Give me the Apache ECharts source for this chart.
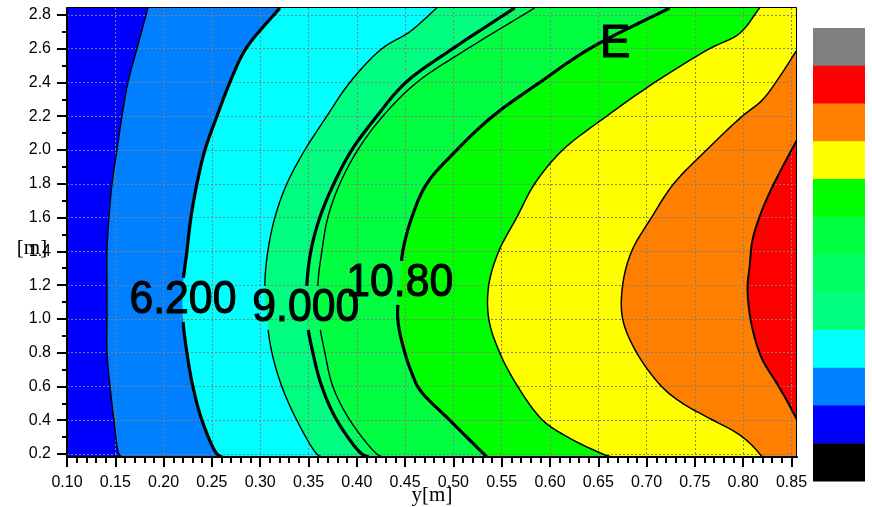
<!DOCTYPE html>
<html>
<head>
<meta charset="utf-8">
<title>E contour map</title>
<script src="https://cdn.jsdelivr.net/npm/echarts@6.0.0/dist/echarts.min.js"></script>
<style>
  html, body { margin: 0; padding: 0; background: #fff; }
  #chart { width: 872px; height: 507px; }
</style>
</head>
<body>
<div id="chart"></div>
<script>
// ---- axis ranges and tick labels ----
const xRange = [0.10, 0.8557];
const yRange = [0.182, 2.841];
const xTickValues = [0.10, 0.15, 0.20, 0.25, 0.30, 0.35, 0.40, 0.45, 0.50, 0.55, 0.60, 0.65, 0.70, 0.75, 0.80, 0.85];
const xTickLabels = ['0.10', '0.15', '0.20', '0.25', '0.30', '0.35', '0.40', '0.45', '0.50', '0.55', '0.60', '0.65', '0.70', '0.75', '0.80', '0.85'];
const yTickValues = [0.2, 0.4, 0.6, 0.8, 1.0, 1.2, 1.4, 1.6, 1.8, 2.0, 2.2, 2.4, 2.6, 2.8];
const yTickLabels = ['0.2', '0.4', '0.6', '0.8', '1.0', '1.2', '1.4', '1.6', '1.8', '2.0', '2.2', '2.4', '2.6', '2.8'];

// ---- contour boundaries, [y position, height] pairs, listed top to bottom ----
const contour1 = [[0.1838, 2.841], [0.1724, 2.6], [0.1631, 2.4], [0.1569, 2.2], [0.1517, 2.0], [0.1466, 1.8], [0.1434, 1.6], [0.1414, 1.4], [0.1414, 1.2], [0.1414, 1.0], [0.1414, 0.8], [0.1445, 0.6], [0.1486, 0.4], [0.1538, 0.2], [0.1569, 0.182]];
const contour2 = [[0.3203, 2.841], [0.2852, 2.6], [0.2686, 2.4], [0.2552, 2.2], [0.2428, 2.0], [0.2345, 1.8], [0.2283, 1.6], [0.2241, 1.4], [0.2200, 1.2], [0.2200, 1.0], [0.2241, 0.8], [0.2303, 0.6], [0.2397, 0.4], [0.2552, 0.2], [0.2603, 0.182]];
const contour3 = [[0.4828, 2.841], [0.4548, 2.70], [0.4259, 2.6], [0.3928, 2.4], [0.3690, 2.2], [0.3462, 2.0], [0.3276, 1.8], [0.3152, 1.6], [0.3079, 1.4], [0.3048, 1.2], [0.3069, 1.0], [0.3121, 0.8], [0.3224, 0.6], [0.3379, 0.4], [0.3586, 0.2], [0.3638, 0.182]];
const contour4 = [[0.5634, 2.841], [0.4993, 2.6], [0.4507, 2.4], [0.4207, 2.2], [0.3948, 2.0], [0.3762, 1.8], [0.3617, 1.6], [0.3524, 1.4], [0.3483, 1.2], [0.3483, 1.0], [0.3545, 0.8], [0.3638, 0.6], [0.3793, 0.4], [0.4052, 0.2], [0.4124, 0.182]];
const contour5 = [[0.5841, 2.841], [0.5148, 2.6], [0.4621, 2.4], [0.4269, 2.2], [0.4010, 2.0], [0.3824, 1.8], [0.3700, 1.6], [0.3638, 1.4], [0.3597, 1.2], [0.3607, 1.0], [0.3669, 0.8], [0.3752, 0.6], [0.3928, 0.4], [0.4207, 0.2], [0.4269, 0.182]];
const contour6 = [[0.7238, 2.841], [0.6410, 2.6], [0.5893, 2.4], [0.5407, 2.2], [0.5034, 2.0], [0.4724, 1.8], [0.4569, 1.6], [0.4476, 1.4], [0.4445, 1.2], [0.4424, 1.0], [0.4497, 0.8], [0.4569, 0.68], [0.4652, 0.58], [0.4962, 0.4], [0.5314, 0.2], [0.5345, 0.182]];
const contour7 = [[0.8169, 2.841], [0.7962, 2.69], [0.7652, 2.6], [0.7083, 2.4], [0.6586, 2.2], [0.6131, 2.0], [0.5841, 1.8], [0.5655, 1.6], [0.5469, 1.4], [0.5366, 1.2], [0.5366, 1.0], [0.5479, 0.8], [0.5666, 0.6], [0.5924, 0.4], [0.6183, 0.3], [0.6545, 0.2], [0.6638, 0.182]];
const contour8 = [[0.8557, 2.593], [0.8376, 2.433], [0.8200, 2.297], [0.7990, 2.2], [0.7620, 2.0], [0.7280, 1.8], [0.7050, 1.6], [0.6845, 1.4], [0.6752, 1.2], [0.6752, 1.0], [0.6897, 0.8], [0.7155, 0.6], [0.7372, 0.5], [0.7621, 0.42], [0.7931, 0.325], [0.8066, 0.265], [0.8200, 0.182]];
const contour9 = [[0.8557, 2.060], [0.8407, 1.900], [0.8272, 1.746], [0.8169, 1.604], [0.8097, 1.468], [0.8066, 1.308], [0.8045, 1.189], [0.8066, 1.035], [0.8117, 0.893], [0.8200, 0.757], [0.8345, 0.621], [0.8448, 0.520], [0.8557, 0.402]];

// ---- contour labels ----
const labelValues = [6.2, 9.0, 10.8];
const labelX = [0.2200, 0.3472, 0.4445];
const labelY = [1.112, 1.065, 1.213];

// ---- colours ----
const baseColor = '#0000ff';
const levelColors = ['#0080ff', '#00ffff', '#00ff80', '#00ff60', '#00ff40', '#00ff00', '#ffff00', '#ff8000', '#ff0000'];
const barColors = ['#808080', '#ff0000', '#ff8000', '#ffff00', '#00ff00', '#00ff40', '#00ff60', '#00ff80', '#00ffff', '#0080ff', '#0000ff', '#000000'];
const contourWidths = [1.4, 3.2, 1.4, 3.2, 1.4, 3.2, 1.5, 1.5, 2.0];

const SANS = '"Liberation Sans", Arial, Helvetica, sans-serif';
const SERIF = '"Liberation Serif", "Times New Roman", serif';

// minor tick positions
const xMinorTicks = [];
for (let k = 11; k <= 85; k++) if (k % 5) xMinorTicks.push(k / 100);
const yMinorTicks = [];
for (let k = 3; k <= 27; k += 2) yMinorTicks.push(k / 10);

const contours = [contour1, contour2, contour3, contour4, contour5, contour6, contour7, contour8, contour9];
const fillColors = [baseColor].concat(levelColors);

function pickLabel(values, labels) {
  return v => {
    const i = values.findIndex(t => Math.abs(t - v) < 1e-6);
    return i < 0 ? '' : labels[i];
  };
}

// centripetal Catmull-Rom path through the pixel points of a contour
function smoothPath(pts, steps) {
  if (pts.length < 3) return pts.slice();
  const n = pts.length;
  const ext = (a, b) => [2 * a[0] - b[0], 2 * a[1] - b[1]];
  const all = [ext(pts[0], pts[1])].concat(pts, [ext(pts[n - 1], pts[n - 2])]);
  const dist = (a, b) => Math.max(Math.sqrt(Math.hypot(b[0] - a[0], b[1] - a[1])), 1e-4);
  const mix = (a, b, wa, wb) => [a[0] * wa + b[0] * wb, a[1] * wa + b[1] * wb];
  const out = [pts[0]];
  for (let i = 1; i < all.length - 2; i++) {
    const P0 = all[i - 1], P1 = all[i], P2 = all[i + 1], P3 = all[i + 2];
    const t0 = 0, t1 = t0 + dist(P0, P1), t2 = t1 + dist(P1, P2), t3 = t2 + dist(P2, P3);
    for (let s = 1; s <= steps; s++) {
      const t = t1 + (t2 - t1) * s / steps;
      const A1 = mix(P0, P1, (t1 - t) / (t1 - t0), (t - t0) / (t1 - t0));
      const A2 = mix(P1, P2, (t2 - t) / (t2 - t1), (t - t1) / (t2 - t1));
      const A3 = mix(P2, P3, (t3 - t) / (t3 - t2), (t - t2) / (t3 - t2));
      const B1 = mix(A1, A2, (t2 - t) / (t2 - t0), (t - t0) / (t2 - t0));
      const B2 = mix(A2, A3, (t3 - t) / (t3 - t1), (t - t1) / (t3 - t1));
      out.push(mix(B1, B2, (t2 - t) / (t2 - t1), (t - t1) / (t2 - t1)));
    }
  }
  return out;
}

// pixel outline of each filled band: everything to the right of its boundary
function bandOutline(i, api) {
  const tr = api.coord([xRange[1], yRange[1]]);
  const br = api.coord([xRange[1], yRange[0]]);
  if (i === 0) {
    return [api.coord([xRange[0], yRange[1]]), tr, br, api.coord([xRange[0], yRange[0]])];
  }
  const curve = smoothPath(contours[i - 1].map(p => api.coord(p)), 8);
  if (i <= 7) return curve.concat([br, tr]);
  if (i === 8) return curve.concat([br]);
  return curve;
}

// parametric part of segment p->q that lies inside box b
function clipInterval(p, q, b) {
  let t0 = 0, t1 = 1;
  const dx = q[0] - p[0], dy = q[1] - p[1];
  const checks = [[-dx, p[0] - b.x0], [dx, b.x1 - p[0]], [-dy, p[1] - b.y0], [dy, b.y1 - p[1]]];
  for (const [pp, qq] of checks) {
    if (pp === 0) { if (qq < 0) return null; }
    else {
      const r = qq / pp;
      if (pp < 0) { if (r > t1) return null; if (r > t0) t0 = r; }
      else { if (r < t0) return null; if (r < t1) t1 = r; }
    }
  }
  return [t0, t1];
}
const lerp = (p, q, t) => [p[0] + (q[0] - p[0]) * t, p[1] + (q[1] - p[1]) * t];

// break a contour line where the labels sit
function cutPolyline(pts, boxes) {
  const runs = [];
  let cur = [];
  for (let i = 0; i < pts.length - 1; i++) {
    const p = pts[i], q = pts[i + 1];
    const cuts = boxes.map(b => clipInterval(p, q, b))
      .filter(c => c && c[1] > c[0]).sort((a, b) => a[0] - b[0]);
    let t = 0;
    if (cur.length === 0) cur.push(p);
    for (const c of cuts) {
      if (c[0] > t) cur.push(lerp(p, q, c[0]));
      if (cur.length > 1) runs.push(cur);
      cur = [];
      t = Math.max(t, c[1]);
      if (t < 1) cur.push(lerp(p, q, t));
    }
    if (t < 1) cur.push(q);
  }
  if (cur.length > 1) runs.push(cur);
  return runs;
}

function labelBoxes(api) {
  return labelValues.map((v, i) => {
    const c = api.coord([labelX[i], labelY[i]]);
    return { x0: c[0] - 56, x1: c[0] + 56, y0: c[1] - 22, y1: c[1] + 22 };
  });
}

const chart = echarts.init(document.getElementById('chart'), null, { renderer: 'canvas' });

const axisFont = { color: '#000', fontFamily: SANS, fontSize: 16 };
const barCell = (481 - 28) / barColors.length;
const gridStyle = { color: '#808080', type: [2, 2], width: 1 };

const option = {
  animation: false,
  backgroundColor: '#ffffff',
  grid: [
    { left: 67, right: 75, top: 8, bottom: 50, show: false, outerBoundsMode: 'none' },
    { left: 67, right: 75, top: 8, bottom: 50, show: false, outerBoundsMode: 'none' }
  ],
  xAxis: [
    {
      type: 'value', gridIndex: 0, min: xRange[0], max: xRange[1], position: 'bottom', z: 3,
      axisLine: { show: true, onZero: false, lineStyle: { color: '#000', width: 2 } },
      axisTick: { show: true, customValues: xTickValues, length: 10, lineStyle: { color: '#000', width: 2 } },
      axisLabel: Object.assign({ show: true, customValues: xTickValues, formatter: pickLabel(xTickValues, xTickLabels), margin: 18 }, axisFont),
      splitLine: { show: true, lineStyle: gridStyle },
      minorTick: { show: false }
    },
    {
      type: 'value', gridIndex: 1, min: xRange[0], max: xRange[1], position: 'bottom', z: 3,
      axisLine: { show: false, onZero: false },
      axisTick: { show: true, customValues: xMinorTicks, length: 6, lineStyle: { color: '#000', width: 2 } },
      axisLabel: { show: false },
      splitLine: { show: false }
    }
  ],
  yAxis: [
    {
      type: 'value', gridIndex: 0, min: yRange[0], max: yRange[1], position: 'left', z: 3,
      axisLine: { show: true, onZero: false, lineStyle: { color: '#000', width: 2 } },
      axisTick: { show: true, customValues: yTickValues, length: 10, lineStyle: { color: '#000', width: 2 } },
      axisLabel: Object.assign({ show: true, customValues: yTickValues, formatter: pickLabel(yTickValues, yTickLabels), margin: 16 }, axisFont),
      splitLine: { show: true, lineStyle: gridStyle }
    },
    {
      type: 'value', gridIndex: 1, min: yRange[0], max: yRange[1], position: 'left', z: 3,
      axisLine: { show: false, onZero: false },
      axisTick: { show: true, customValues: yMinorTicks, length: 5, lineStyle: { color: '#000', width: 2 } },
      axisLabel: { show: false },
      splitLine: { show: false }
    }
  ],
  series: [
    {
      // filled bands
      type: 'custom', name: 'levels', coordinateSystem: 'cartesian2d', xAxisIndex: 0, yAxisIndex: 0,
      clip: true, silent: true, z: 1,
      data: fillColors.map((c, i) => (i === 0 ? [xRange[0], yRange[0]] : contours[i - 1][0])),
      renderItem: (params, api) => {
        const i = params.dataIndex;
        return {
          type: 'polygon',
          shape: { points: bandOutline(i, api) },
          style: { fill: fillColors[i], stroke: 'none' }
        };
      }
    },
    {
      // contour lines
      type: 'custom', name: 'contours', coordinateSystem: 'cartesian2d', xAxisIndex: 0, yAxisIndex: 0,
      clip: true, silent: true, z: 4,
      data: contours.map(c => c[0]),
      renderItem: (params, api) => {
        const i = params.dataIndex;
        const pts = smoothPath(contours[i].map(p => api.coord(p)), 8);
        const runs = cutPolyline(pts, labelBoxes(api));
        return {
          type: 'group',
          children: runs.map(r => ({
            type: 'polyline',
            shape: { points: r },
            style: { stroke: '#000', fill: 'none', lineWidth: contourWidths[i], lineJoin: 'round', lineCap: 'butt' }
          }))
        };
      }
    },
    {
      // contour value labels
      type: 'custom', name: 'labels', coordinateSystem: 'cartesian2d', xAxisIndex: 0, yAxisIndex: 0,
      clip: false, silent: true, z: 5,
      data: labelValues.map((v, i) => [labelX[i], labelY[i], v]),
      renderItem: (params, api) => {
        const p = api.coord([api.value(0), api.value(1)]);
        return {
          type: 'text', x: p[0], y: p[1], scaleX: 0.93,
          style: {
            text: api.value(2).toPrecision(4), fill: '#000',
            fontFamily: SANS, fontSize: 46,
            stroke: '#000', lineWidth: 1.1,
            align: 'center', verticalAlign: 'middle'
          }
        };
      }
    }
  ],
  graphic: [
    { type: 'rect', z: 10, silent: true, shape: { x: 67, y: 7.5, width: 729.5, height: 449.5 }, style: { fill: 'none', stroke: '#000', lineWidth: 1 } },
    ...barColors.map((c, i) => ({
      type: 'rect', z: 10, silent: true,
      shape: { x: 813, y: 28 + i * barCell, width: 52, height: barCell + 0.6 },
      style: { fill: c, stroke: 'none' }
    })),
    { type: 'text', z: 10, silent: true, x: 615, y: 44, style: { text: 'E', fill: '#000', stroke: '#000', lineWidth: 1, font: '46px ' + SANS, align: 'center', verticalAlign: 'middle', textAlign: 'center', textVerticalAlign: 'middle' } },
    { type: 'text', z: 10, silent: true, x: 432, y: 495, style: { text: 'y[m]', fill: '#000', font: '21px ' + SERIF, align: 'center', verticalAlign: 'middle', textAlign: 'center', textVerticalAlign: 'middle' } },
    { type: 'text', z: 10, silent: true, x: 32, y: 248, style: { text: '[m]', fill: '#000', font: '21px ' + SERIF, align: 'center', verticalAlign: 'middle', textAlign: 'center', textVerticalAlign: 'middle' } }
  ]
};

chart.setOption(option);
</script>
</body>
</html>
